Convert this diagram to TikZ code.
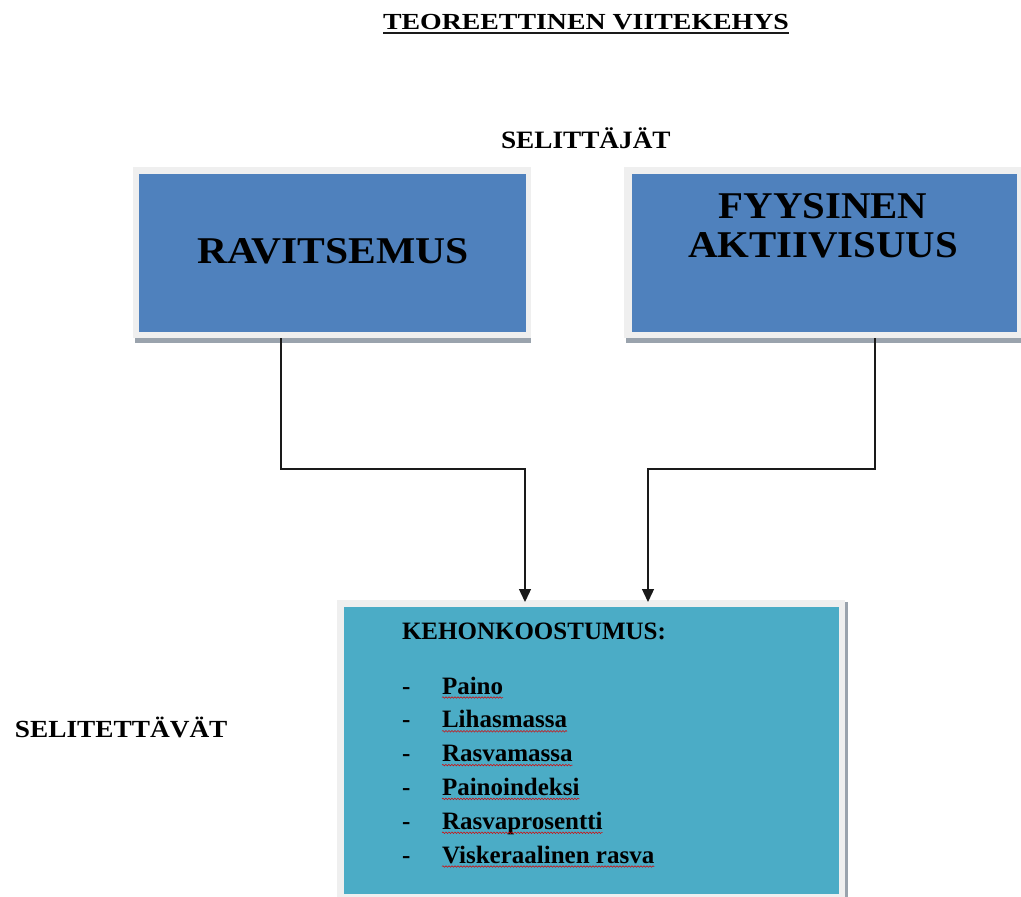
\documentclass[tikz,border=0pt]{standalone}
\usepackage{fontspec}
\setmainfont{Liberation Serif}
\usetikzlibrary{arrows.meta,decorations.pathmorphing}
\definecolor{boxblue}{HTML}{4F81BD}
\definecolor{boxteal}{HTML}{4BACC6}
\definecolor{framegray}{HTML}{EFEFEF}
\definecolor{shadowgray}{HTML}{9AA3AD}
\definecolor{linecol}{HTML}{1A1A1A}
\newcommand{\xs}[2]{\scalebox{#1}[1]{#2}}
\begin{document}
\begin{tikzpicture}[x=1pt,y=-1pt,
  txt/.style={inner sep=0pt, outer sep=0pt, font=\bfseries},
  framebox/.style={fill=framegray, inner sep=0pt, outer sep=0pt},
  bluebox/.style={fill=boxblue, inner sep=0pt},
  tealbox/.style={fill=boxteal, inner sep=0pt},
  conn/.style={draw=linecol, line width=1.3pt, -{Triangle[width=12pt,length=13pt]}},
  wavy/.style={draw=red!85!black, line width=0.5pt, decorate,
    decoration={snake, amplitude=0.8pt, segment length=3pt}}
]
\useasboundingbox (0,0) rectangle (1021,897);
\fill[white] (0,0) rectangle (1021,897);

% title
\node[txt, anchor=base west, font=\bfseries\fontsize{23}{26}\selectfont] (title) at (383,29)
  {\xs{1.21}{TEOREETTINEN VIITEKEHYS}};
\draw[linecol, line width=1.3pt] ([yshift=-4pt]title.base west) -- ([yshift=-4pt]title.base east);

% headings
\node[txt, anchor=base west, font=\bfseries\fontsize{25}{28}\selectfont] (selj) at (501,148)
  {\xs{1.09}{SELITTÄJÄT}};
\node[txt, anchor=base west, font=\bfseries\fontsize{24.6}{28}\selectfont] (selt) at (15,737)
  {\xs{1.11}{SELITETTÄVÄT}};

% left box
\fill[shadowgray] (135,338) rectangle (531,343);
\node[framebox, minimum width=398pt, minimum height=171pt] (ravf) at (332,252.5) {};
\node[bluebox, minimum width=387pt, minimum height=158pt] (rav) at (332.5,253) {};
\node[txt, anchor=base, font=\bfseries\fontsize{37.8}{40}\selectfont] (ravt) at (333,263)
  {\xs{1.1}{RAVITSEMUS}};

% right box
\fill[shadowgray] (626,338) rectangle (1021,343);
\node[framebox, minimum width=400pt, minimum height=171pt] (fyyf) at (824,252.5) {};
\node[bluebox, minimum width=385pt, minimum height=158pt] (fyy) at (824.5,253) {};
\node[txt, anchor=base, font=\bfseries\fontsize{37.8}{40}\selectfont] (fyyt1) at (823,218)
  {\xs{1.08}{FYYSINEN}};
\node[txt, anchor=base, font=\bfseries\fontsize{37.8}{40}\selectfont] (fyyt2) at (823,257)
  {\xs{1.08}{AKTIIVISUUS}};

% bottom box
\fill[shadowgray] (845,602) rectangle (848,897);
\node[framebox, minimum width=508pt, minimum height=300pt] (kehf) at (591,750) {};
\node[tealbox, minimum width=495pt, minimum height=287pt] (keh) at (591.5,750.5) {};
\node[txt, anchor=base west, font=\bfseries\fontsize{25}{28}\selectfont] (kehh) at (402,639)
  {KEHONKOOSTUMUS:};
\foreach \t [count=\i] in {Paino,Lihasmassa,Rasvamassa,Painoindeksi,Rasvaprosentti,Viskeraalinen rasva}{
  \pgfmathsetmacro{\yy}{694+33.8*(\i-1)}
  \node[txt, anchor=base west, font=\bfseries\fontsize{25}{28}\selectfont] (dash\i) at (402,\yy) {-};
  \node[txt, anchor=base west, font=\bfseries\fontsize{25}{28}\selectfont] (item\i) at (442,\yy) {\t};
  \draw[wavy] ([yshift=-3.5pt]item\i.base west) -- ([yshift=-3.5pt]item\i.base east);
}

% connectors
\coordinate (midl) at (400,469);
\coordinate (midr) at (760,469);
\draw[conn] ([xshift=-51pt]ravf.south) |- (midl) -| ([xshift=-66pt,yshift=-2pt]kehf.north);
\draw[conn] ([xshift=51pt]fyyf.south) |- (midr) -| ([xshift=57pt,yshift=-2pt]kehf.north);
\end{tikzpicture}
\end{document}
